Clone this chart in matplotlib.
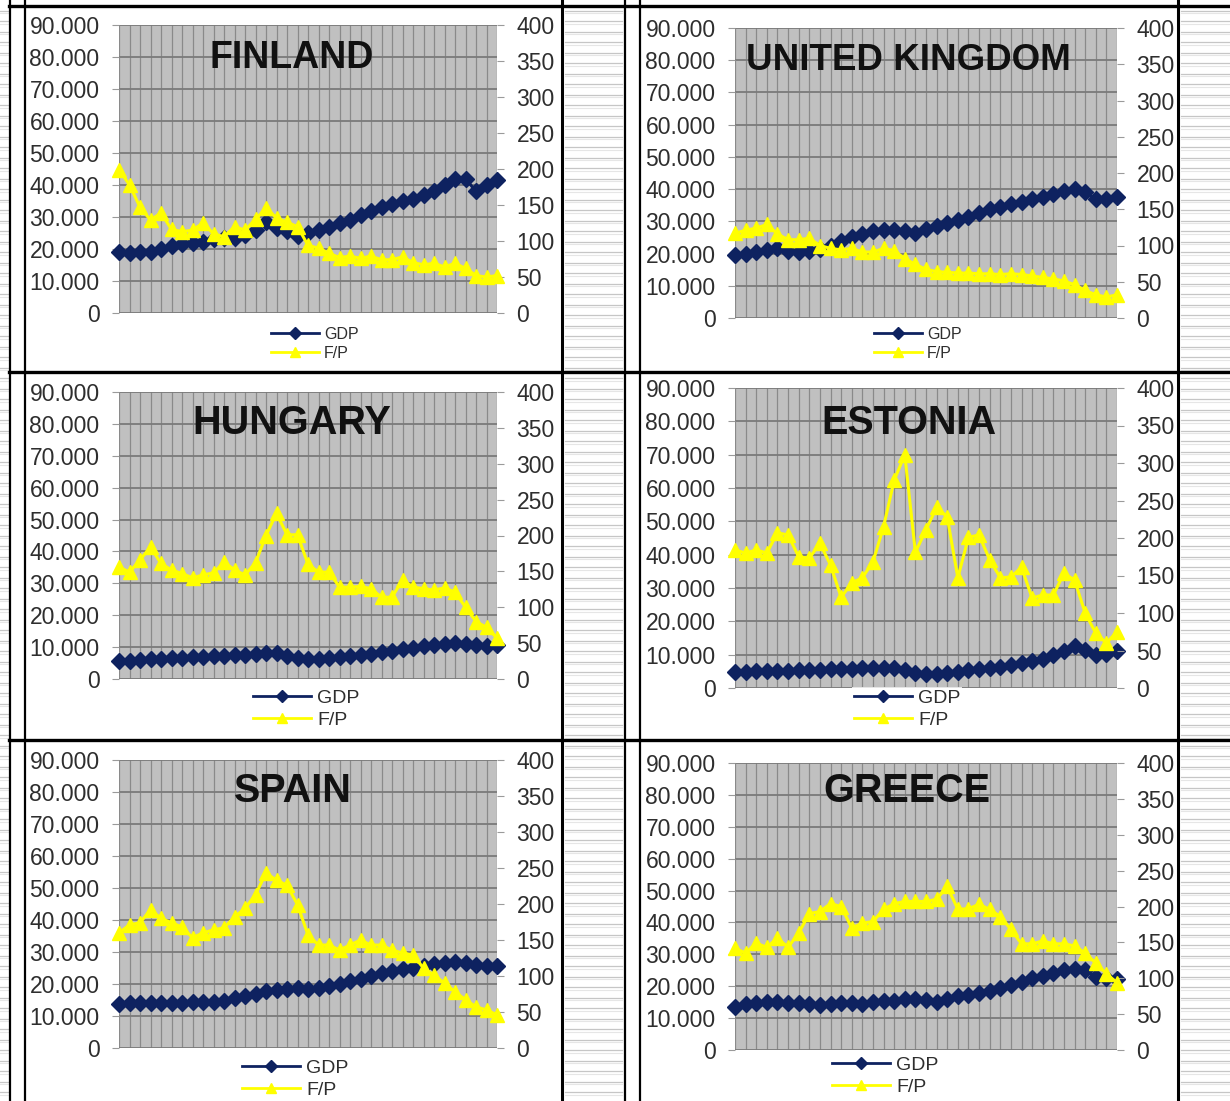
import numpy as np
import matplotlib.pyplot as plt
from matplotlib.ticker import FuncFormatter, MultipleLocator
from matplotlib.lines import Line2D

plt.rcParams['font.family'] = ['Liberation Sans', 'DejaVu Sans']

countries = ["FINLAND", "UNITED KINGDOM", "HUNGARY", "ESTONIA", "SPAIN", "GREECE"]
series_labels = ["GDP", "F/P"]

# GDP per capita (left axis) and F/P index (right axis), one value per year
gdp_finland = [19.0, 18.8, 19.0, 19.2, 20.0, 21.0, 21.5, 22.0, 22.3, 23.0, 23.3, 23.5, 24.5,
               26.0, 28.5, 26.5, 25.5, 24.0, 25.0, 25.8, 27.0, 28.0, 29.0, 30.5, 31.8, 33.0,
               34.0, 35.0, 35.5, 36.8, 38.0, 40.0, 42.0, 42.0, 38.0, 40.0, 41.5]
fp_finland = [199, 178, 147, 129, 139, 116, 113, 115, 125, 110, 106, 120, 115, 130, 146, 132,
              126, 120, 94, 90, 83, 77, 79, 76, 79, 74, 74, 78, 70, 67, 69, 64, 69, 62, 52, 50, 52]

gdp_uk = [19.6, 20.0, 20.5, 21.0, 21.8, 20.8, 20.5, 20.8, 21.5, 22.5, 24.0, 25.0, 26.0, 27.0,
          27.3, 27.3, 27.0, 26.3, 27.5, 28.5, 29.5, 30.5, 31.5, 32.5, 33.8, 34.5, 35.3, 36.0,
          36.8, 37.5, 38.5, 39.3, 40.0, 39.0, 36.8, 37.0, 37.5]
fp_uk = [117, 121, 124, 129, 116, 108, 108, 110, 100, 96, 94, 96, 91, 91, 96, 93, 82, 74, 67,
         64, 63, 62, 62, 61, 61, 60, 61, 60, 58, 56, 54, 51, 46, 38, 32, 29, 32]

gdp_hungary = [5.5, 5.8, 6.0, 6.2, 6.4, 6.6, 6.7, 6.9, 7.0, 7.2, 7.3, 7.5, 7.6, 7.8, 8.0, 8.3,
               7.3, 6.5, 6.3, 6.3, 6.5, 6.8, 7.1, 7.5, 7.9, 8.4, 8.8, 9.3, 9.7, 10.2, 10.6,
               11.0, 11.2, 11.0, 10.6, 10.3, 10.6]
fp_hungary = [156, 149, 166, 184, 161, 152, 147, 141, 145, 148, 163, 152, 145, 162, 200, 231,
              201, 201, 160, 149, 149, 128, 128, 129, 126, 114, 114, 138, 128, 126, 124, 127,
              121, 100, 80, 72, 57]

gdp_estonia = [4.8, 4.9, 5.0, 5.0, 5.1, 5.2, 5.3, 5.4, 5.5, 5.6, 5.7, 5.8, 5.9, 6.0, 6.1, 6.0,
               5.4, 4.6, 4.2, 4.2, 4.5, 4.9, 5.3, 5.6, 5.9, 6.3, 6.8, 7.4, 8.0, 8.8, 9.8, 11.0,
               12.5, 11.5, 10.0, 10.3, 11.0]
fp_estonia = [184, 180, 184, 180, 207, 204, 175, 173, 193, 164, 121, 140, 147, 168, 215, 277,
              311, 181, 211, 241, 228, 147, 201, 204, 171, 147, 148, 161, 120, 124, 124, 153,
              144, 100, 73, 60, 75]

gdp_spain = [13.8, 14.0, 14.0, 14.0, 14.2, 14.0, 14.0, 14.3, 14.5, 14.5, 14.8, 15.5, 16.3, 17.0,
             17.8, 18.2, 18.5, 18.7, 18.3, 18.6, 19.3, 20.0, 20.8, 21.6, 22.5, 23.3, 24.1, 24.7,
             25.0, 25.6, 26.2, 26.6, 26.8, 26.5, 25.8, 25.5, 25.6]
fp_spain = [160, 171, 174, 192, 180, 174, 168, 153, 160, 164, 167, 182, 194, 213, 243, 233, 226,
            199, 157, 143, 143, 136, 143, 150, 143, 143, 136, 132, 129, 111, 101, 90, 78, 67, 57,
            53, 46]

gdp_greece = [13.4, 14.3, 14.6, 15.0, 15.0, 14.6, 14.6, 14.5, 14.2, 14.5, 14.6, 14.6, 14.5, 15.0,
              15.4, 15.4, 16.0, 16.0, 15.6, 15.2, 16.0, 16.8, 17.2, 17.8, 18.5, 19.5, 20.3, 21.2,
              22.5, 23.3, 24.2, 25.0, 25.5, 25.0, 23.0, 22.5, 22.3]
fp_greece = [142, 135, 149, 143, 156, 143, 163, 190, 193, 204, 200, 170, 177, 179, 196, 204, 207,
             207, 207, 210, 228, 196, 197, 203, 196, 186, 168, 148, 148, 152, 148, 148, 145, 135,
             121, 106, 94]

gdp_all = [gdp_finland, gdp_uk, gdp_hungary, gdp_estonia, gdp_spain, gdp_greece]
fp_all = [fp_finland, fp_uk, fp_hungary, fp_estonia, fp_spain, fp_greece]

W, H = 1230, 1101
NAVY = "#0e2260"
YELLOW = "#ffff00"
TEXT = "#2e2e2e"

# pixel layout of each chart: plot box, title centre, legend centre, legend font size, title size
layout = [
    dict(plot=(119, 25, 497, 313), title=(292, 58), legend=(315, 344), lfs=11.5, tfs=27),
    dict(plot=(735, 28, 1117, 318), title=(908, 60), legend=(918, 344), lfs=11.5, tfs=26.5),
    dict(plot=(119, 392, 497, 679), title=(292, 423), legend=(306, 709), lfs=14, tfs=28.5),
    dict(plot=(735, 388, 1117, 688), title=(909, 423), legend=(907, 709), lfs=14, tfs=28.5),
    dict(plot=(119, 760, 497, 1048), title=(293, 791), legend=(295, 1079), lfs=14, tfs=28.5),
    dict(plot=(735, 763, 1117, 1050), title=(907, 791), legend=(885, 1076), lfs=14, tfs=28.5),
]

fig = plt.figure(figsize=(W / 100, H / 100), dpi=100)

# sheet background: ruled rows outside the charts and the table borders
bg = fig.add_axes([0, 0, 1, 1], zorder=-10)
bg.set_xlim(0, W)
bg.set_ylim(H, 0)
bg.axis('off')
for y in np.arange(10.5, H, 10.5):
    for x0, x1 in [(0, 8), (565, 622), (1181, W)]:
        bg.plot([x0, x1], [y, y], color="#c6c6c6", lw=0.9)
        bg.plot([x0, x1], [y + 2.5, y + 2.5], color="#e6e6e6", lw=0.8)
for y in [6, 372, 740]:
    bg.plot([9, W], [y, y], color="black", lw=2.4)
for x, lw in [(10, 1.6), (25, 1.6), (562, 2.2), (625, 1.6), (640, 1.6), (1178, 2.2)]:
    bg.plot([x, x], [0, H], color="black", lw=lw)


def thousands(v, pos):
    return "0" if v == 0 else f"{v:,.0f}".replace(",", ".")


for name, gdp, fp, lay in zip(countries, gdp_all, fp_all, layout):
    x0, y0, x1, y1 = lay["plot"]
    ax = fig.add_axes([x0 / W, 1 - y1 / H, (x1 - x0) / W, (y1 - y0) / H])
    xs = np.arange(len(gdp))
    ax.set_facecolor("#c0c0c0")
    ax.set_xlim(0, len(gdp) - 1)
    ax.set_ylim(0, 90000)
    ax.yaxis.set_major_locator(MultipleLocator(10000))
    ax.yaxis.set_major_formatter(FuncFormatter(thousands))
    ax.set_xticks(xs)
    ax.tick_params(axis='x', length=0, labelbottom=False)
    ax.tick_params(axis='y', direction='out', length=5, width=0.8, color="#9a9a9a",
                   pad=9, labelsize=16.5, labelcolor=TEXT)
    ax.grid(axis='x', color="#8a8a8a", lw=0.9)
    ax.grid(axis='y', color="#7a7a7a", lw=1.3)
    ax.set_axisbelow(True)
    for s in ax.spines.values():
        s.set_visible(False)
    ax.plot(xs, np.array(gdp) * 1000, color=NAVY, lw=2.2, marker='D', ms=8.5,
            clip_on=False, zorder=3)

    ax2 = ax.twinx()
    ax2.set_ylim(0, 400)
    ax2.yaxis.set_major_locator(MultipleLocator(50))
    ax2.tick_params(axis='y', direction='out', length=5, width=0.8, color="#9a9a9a",
                    pad=9, labelsize=16.5, labelcolor=TEXT)
    for s in ax2.spines.values():
        s.set_visible(False)
    ax2.plot(xs, fp, color=YELLOW, lw=2.2, marker='^', ms=10.5, clip_on=False, zorder=3)

    tx, ty = lay["title"]
    fig.text(tx / W, 1 - ty / H, name, ha='center', va='center', fontweight='bold',
             fontsize=lay["tfs"], color="#111111")

    handles = [Line2D([], [], color=NAVY, lw=2, marker='D', ms=6),
               Line2D([], [], color=YELLOW, lw=2, marker='^', ms=7)]
    lx, ly = lay["legend"]
    leg = ax2.legend(handles, series_labels, loc='center',
                     bbox_to_anchor=(lx / W, 1 - ly / H), bbox_transform=fig.transFigure,
                     fontsize=lay["lfs"], handlelength=3.0, handletextpad=0.3,
                     labelspacing=0.25, borderpad=0.1, frameon=True, fancybox=False)
    leg.get_frame().set_facecolor("white")
    leg.get_frame().set_edgecolor("none")
    for t in leg.get_texts():
        t.set_color(TEXT)

fig.savefig("out.png", dpi=100)
